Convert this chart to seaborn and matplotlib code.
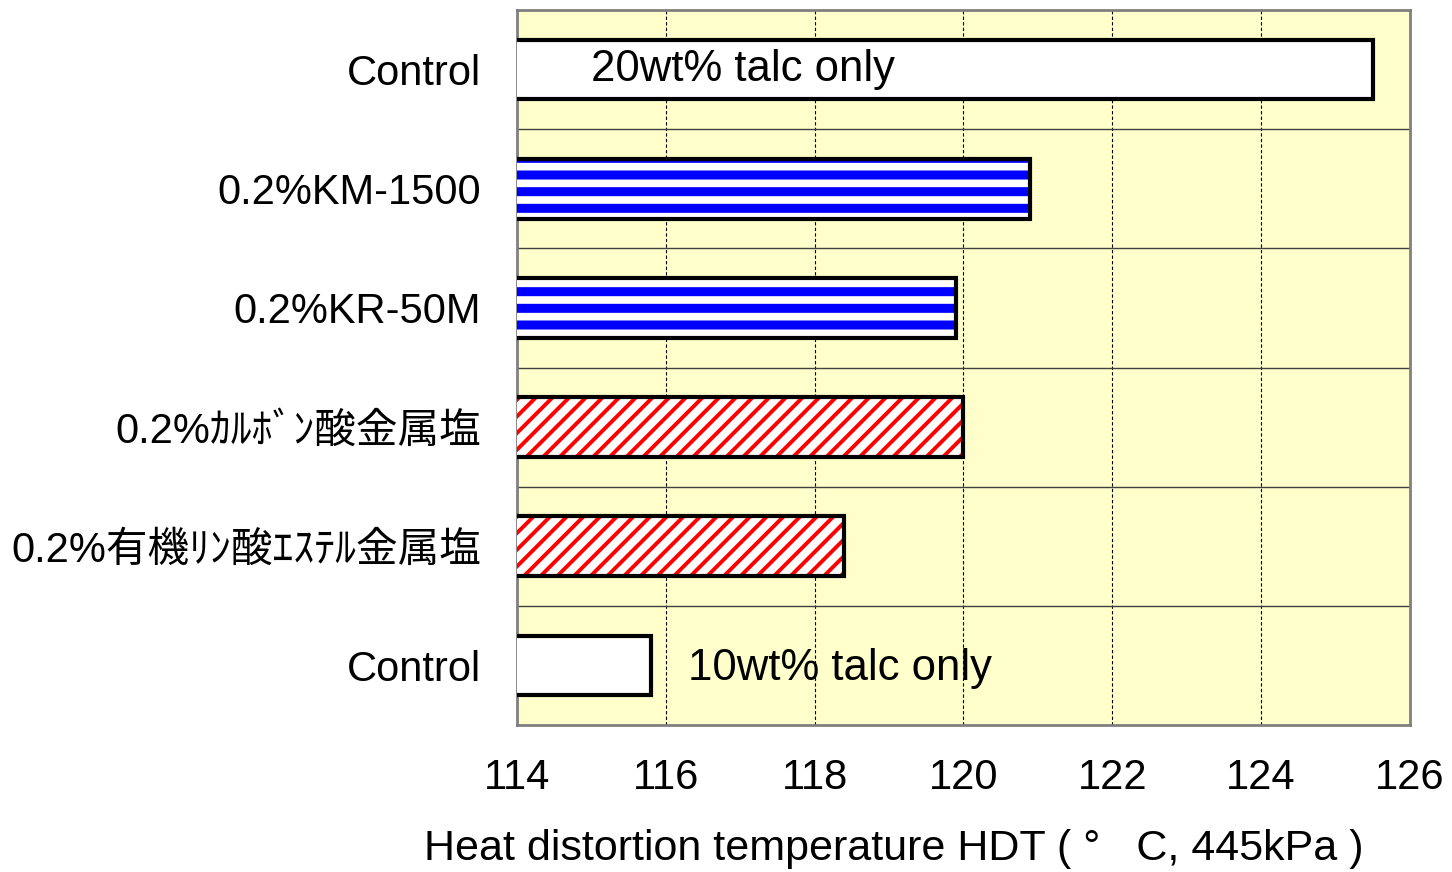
import matplotlib
matplotlib.use("Agg")
import matplotlib.pyplot as plt
import seaborn as sns
import pandas as pd

# ---- data ----
categories = ["Control", "0.2%KM-1500", "0.2%KR-50M",
              "0.2%ｶﾙﾎﾞﾝ酸金属塩", "0.2%有機ﾘﾝ酸ｴｽﾃﾙ金属塩", "Control"]
bar_ids = ["ctrl20", "km1500", "kr50m", "carboxylate", "phosphate", "ctrl10"]
hdt_values = [125.5, 120.9, 119.9, 120.0, 118.4, 115.8]
hatches = ["", "-", "-", "//", "//", ""]
hatch_colors = ["black", "#0000FF", "#0000FF", "#FF0000", "#FF0000", "black"]
hatch_widths = [1.0, 6.5, 6.5, 2.8, 2.8, 1.0]
x_ticks = [114, 116, 118, 120, 122, 124, 126]
annot_texts = ["20wt% talc only", "10wt% talc only"]
annot_x = [115.0, 116.3]
annot_cat = [0, 5.03]
x_label = "Heat distortion temperature HDT ( °   C, 445kPa )"

FS = 30

sns.set_theme(style="white")
plt.rcParams["font.family"] = ["Liberation Sans", "Noto Sans CJK JP", "DejaVu Sans"]
plt.rcParams["text.color"] = "black"
plt.rcParams["axes.labelcolor"] = "black"
plt.rcParams["xtick.color"] = "black"
plt.rcParams["ytick.color"] = "black"
plt.rcParams["hatch.linewidth"] = 4.0

fig = plt.figure(figsize=(14.52, 8.72), dpi=100)
ax = fig.add_axes([517/1452, 1 - 725/872, (1410-517)/1452, (725-10)/872])
ax.set_facecolor("#FFFFCC")

df = pd.DataFrame({"id": bar_ids, "HDT": hdt_values})
sns.barplot(data=df, x="HDT", y="id", order=bar_ids, color="white",
            saturation=1, width=0.5, linewidth=0, ax=ax, zorder=3)
for p, h, c, w in zip(list(ax.patches), hatches, hatch_colors, hatch_widths):
    p.set_facecolor("white")
    p.set_hatch(h)
    p.set_edgecolor(c)
    p.set_linewidth(0)
    if hasattr(p, "set_hatch_linewidth"):
        p.set_hatch_linewidth(w)
sns.barplot(data=df, x="HDT", y="id", order=bar_ids, fill=False,
            color="black", width=0.5, linewidth=3, ax=ax, zorder=4)
for p in ax.patches[len(bar_ids):]:
    p.set_edgecolor("black")
    p.set_linewidth(3)

ax.set_xlim(x_ticks[0], x_ticks[-1])
ax.set_xticks(x_ticks)
ax.set_xticklabels([str(t) for t in x_ticks], fontsize=FS, color="black")
ax.set_yticks(range(len(categories)))
ax.set_yticklabels(categories, fontsize=FS, color="black")
ax.set_yticks([i + 0.5 for i in range(len(categories) - 1)], minor=True)
ax.tick_params(axis="both", which="both", length=0)
ax.tick_params(axis="x", pad=24)
ax.tick_params(axis="y", pad=26)

ax.set_axisbelow(True)
ax.grid(False)
ax.yaxis.grid(True, which="minor", color="#404040", linewidth=1.0, linestyle="-")
ax.xaxis.grid(True, which="major", color="black", linewidth=0.8, linestyle=(0, (3, 2)))

for s in ax.spines.values():
    s.set_visible(True)
    s.set_color("#808080")
    s.set_linewidth(2)

for t, x, c in zip(annot_texts, annot_x, annot_cat):
    ax.text(x, c, t, fontsize=31.5, va="center", ha="left", color="black", zorder=5)

ax.set_xlabel(x_label, fontsize=31, color="black")
ax.xaxis.label.set_va("center")
ax.xaxis.set_label_coords(0.422, -0.174)
ax.set_ylabel("")

fig.savefig("out.png", dpi=100)
